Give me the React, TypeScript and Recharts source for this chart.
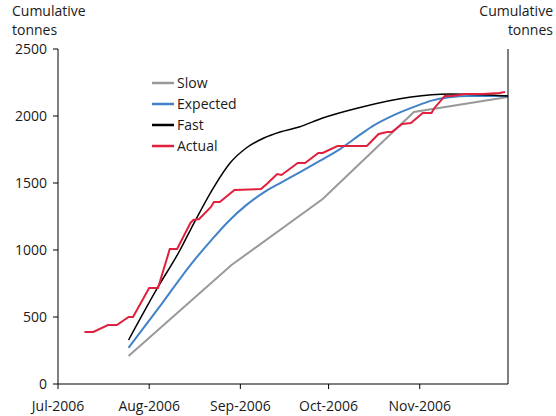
import React from 'react';
import { LineChart, Line, XAxis, YAxis } from 'recharts';

// x values are days counted from 1 Jul 2006
const monthTicks = [0, 31, 62, 92, 123];
const monthLabels = ['Jul-2006', 'Aug-2006', 'Sep-2006', 'Oct-2006', 'Nov-2006'];
const tonneTicks = [0, 500, 1000, 1500, 2000, 2500];

const slowDays = [24, 59, 90, 121, 153];
const slowTonnes = [209, 888, 1380, 2030, 2142];

const expectedDays = [24, 35, 45, 52, 58, 64, 70, 76, 82, 89, 96, 102, 107, 114, 121, 127, 133, 140, 153];
const expectedTonnes = [
  270, 590, 888, 1070, 1215, 1335, 1430, 1505, 1578, 1665, 1755, 1850, 1925, 2005, 2068, 2115, 2140, 2150, 2150,
];

const fastDays = [24, 34, 41.5, 45, 53, 58.5, 64, 70, 75.5, 82, 90, 102, 120, 133, 153];
const fastTonnes = [328, 724, 1000, 1149, 1470, 1649, 1761, 1836, 1881, 1918, 1985, 2060, 2142, 2164, 2150];

const actualDays = [
  9, 12, 17, 20, 24, 25.5, 31, 34, 38, 40.5, 45, 46, 48, 52, 53, 55, 60, 69, 71, 74.5, 76, 81.5,
  84, 88.5, 90, 95, 105, 109, 112, 113.5, 117, 120, 124, 127, 128, 131.5, 134, 138.5, 144.5, 150, 152,
];
const actualTonnes = [
  388, 388, 440, 440, 500, 500, 716, 716, 1007, 1007, 1201, 1224, 1231, 1321, 1358, 1358, 1448, 1455,
  1493, 1567, 1560, 1649, 1649, 1724, 1724, 1776, 1776, 1866, 1881, 1881, 1940, 1948, 2022, 2022, 2060,
  2149, 2149, 2164, 2164, 2172, 2179,
];

const toPoints = (days: number[], values: number[]) => days.map((d, i) => ({ day: d, value: values[i] }));

const series = [
  { name: 'Slow', color: '#999999', width: 2, curve: 'linear', data: toPoints(slowDays, slowTonnes) },
  { name: 'Expected', color: '#4282c8', width: 2, curve: 'monotone', data: toPoints(expectedDays, expectedTonnes) },
  { name: 'Fast', color: '#000000', width: 1.5, curve: 'monotone', data: toPoints(fastDays, fastTonnes) },
  { name: 'Actual', color: '#e0203c', width: 2, curve: 'linear', data: toPoints(actualDays, actualTonnes) },
];

const font = "'Open Sans', sans-serif";
const tickStyle = { fontSize: 14, fill: '#1a1a1a', fontFamily: font };
const titleStyle = { position: 'absolute', fontSize: 14, lineHeight: '19px', color: '#1a1a1a' } as const;

const App = () => {
  return (
    <div style={{ position: 'absolute', left: 0, top: 0, width: 556, height: 416, background: '#fff', fontFamily: font }}>
      <LineChart width={556} height={416} margin={{ top: 49, right: 0, bottom: 0, left: 0 }}>
        <XAxis
          dataKey="day"
          type="number"
          domain={[0, 153]}
          ticks={monthTicks}
          tickFormatter={(v: number) => monthLabels[monthTicks.indexOf(v)] ?? ''}
          height={32}
          tickSize={5}
          tickMargin={12}
          stroke="#000"
          tick={tickStyle}
          allowDuplicatedCategory={false}
        />
        <YAxis
          yAxisId="left"
          orientation="left"
          domain={[0, 2500]}
          ticks={tonneTicks}
          width={58}
          tickSize={5}
          tickMargin={6}
          stroke="#000"
          tick={tickStyle}
        />
        <YAxis
          yAxisId="right"
          orientation="right"
          domain={[0, 2500]}
          ticks={tonneTicks}
          width={48}
          tickSize={5}
          tickMargin={5}
          stroke="#000"
          tick={{ ...tickStyle, textAnchor: 'start' }}
        />
        {series.map((s) => (
          <Line
            key={s.name}
            yAxisId="left"
            data={s.data}
            dataKey="value"
            name={s.name}
            type={s.curve as any}
            stroke={s.color}
            strokeWidth={s.width}
            dot={false}
            activeDot={false}
            isAnimationActive={false}
          />
        ))}
      </LineChart>

      {/* axis titles */}
      <div style={{ ...titleStyle, left: 12, top: 1 }}>Cumulative</div>
      <div style={{ ...titleStyle, left: 12, top: 20 }}>tonnes</div>
      <div style={{ ...titleStyle, right: 3, top: 1, textAlign: 'right' }}>Cumulative</div>
      <div style={{ ...titleStyle, right: 3, top: 20, textAlign: 'right' }}>tonnes</div>

      {/* legend */}
      <div style={{ position: 'absolute', left: 152, top: 72 }}>
        {series.map((s) => (
          <div key={s.name} style={{ display: 'flex', alignItems: 'center', height: 21, fontSize: 14, color: '#1a1a1a' }}>
            <svg width={25} height={4}>
              <line x1={0} y1={2} x2={22} y2={2} stroke={s.color} strokeWidth={2.5} />
            </svg>
            <span>{s.name}</span>
          </div>
        ))}
      </div>
    </div>
  );
};

export default App;
